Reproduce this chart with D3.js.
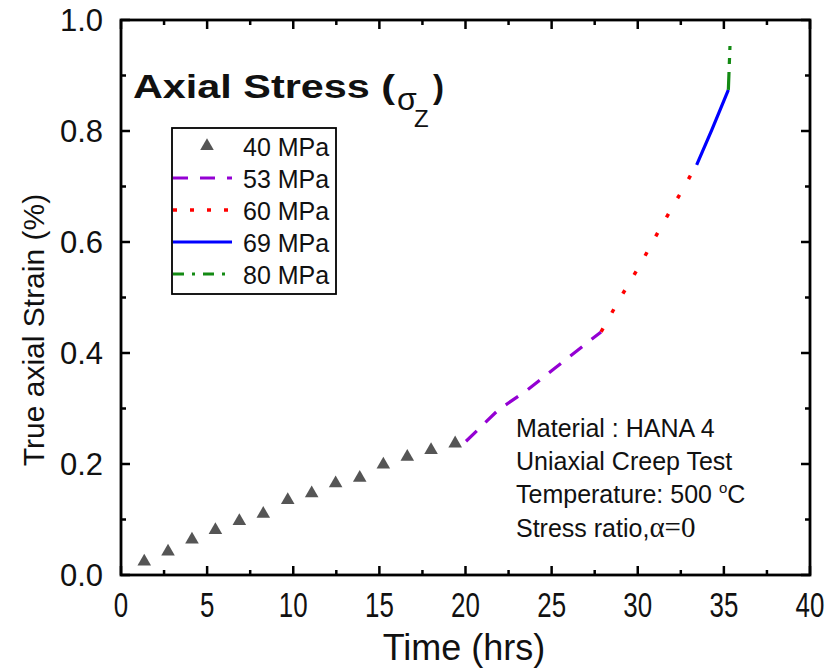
<!DOCTYPE html>
<html>
<head>
<meta charset="utf-8">
<script src="https://cdn.jsdelivr.net/npm/d3@7"></script>
<style>
  body { margin: 0; background: #fff; }
  text { font-family: "Liberation Sans", Arial, sans-serif; fill: #111; }
</style>
</head>
<body>
<svg id="chart" width="833" height="670"></svg>
<script>
// 40 MPa points (triangles)
const t40 = [1.35, 2.73, 4.12, 5.48, 6.87, 8.26, 9.68, 11.07, 12.46, 13.86, 15.23, 16.62, 18.0, 19.4];
const s40 = [0.024, 0.042, 0.064, 0.081, 0.097, 0.110, 0.135, 0.147, 0.165, 0.175, 0.199, 0.213, 0.225, 0.237];

// the other stress levels as line segments
const t53 = [20.03, 21.89, 23.57, 25.2, 27.05, 27.87];
const s53 = [0.241, 0.297, 0.333, 0.373, 0.418, 0.438];
const t60 = [27.87, 28.85, 30.19, 31.47, 32.8, 33.44];
const s60 = [0.438, 0.492, 0.562, 0.634, 0.705, 0.741];
const t69 = [33.42, 34.3, 35.26];
const s69 = [0.739, 0.802, 0.874];
const t80 = [35.26, 35.31, 35.36];
const s80 = [0.874, 0.916, 0.958];

const legendLabels = ["40 MPa", "53 MPa", "60 MPa", "69 MPa", "80 MPa"];
const xTicks = [0, 5, 10, 15, 20, 25, 30, 35, 40];
const yTicks = [0.0, 0.2, 0.4, 0.6, 0.8, 1.0];

const svg = d3.select("#chart");
const mLeft = 121, mRight = 810, mTop = 20, mBottom = 575;

const x = d3.scaleLinear().domain([0, 40]).range([mLeft, mRight]);
const y = d3.scaleLinear().domain([0, 1]).range([mBottom, mTop]);

const zip = (a, b) => a.map((v, i) => [v, b[i]]);

// ticks (inward on all four sides)
const g = svg.append("g").attr("stroke", "#000").attr("stroke-width", 2.5);
const xMinor = d3.range(2.5, 40, 5);
const yMinor = d3.range(0.1, 1, 0.2);
function xTick(v, len) {
  g.append("line").attr("x1", x(v)).attr("x2", x(v)).attr("y1", mBottom).attr("y2", mBottom - len);
  g.append("line").attr("x1", x(v)).attr("x2", x(v)).attr("y1", mTop).attr("y2", mTop + len);
}
function yTick(v, len) {
  g.append("line").attr("x1", mLeft).attr("x2", mLeft + len).attr("y1", y(v)).attr("y2", y(v));
  g.append("line").attr("x1", mRight).attr("x2", mRight - len).attr("y1", y(v)).attr("y2", y(v));
}
xTicks.forEach(v => xTick(v, 9));
xMinor.forEach(v => xTick(v, 5));
yTicks.forEach(v => yTick(v, 9));
yMinor.forEach(v => yTick(v, 5));

svg.append("rect")
  .attr("x", mLeft).attr("y", mTop)
  .attr("width", mRight - mLeft).attr("height", mBottom - mTop)
  .attr("fill", "none").attr("stroke", "#000").attr("stroke-width", 2.8);

// tick labels
xTicks.forEach(v => {
  svg.append("text")
    .attr("transform", `translate(${x(v)},617) scale(0.72,1)`)
    .attr("text-anchor", "middle")
    .attr("font-size", 36)
    .text(v);
});
yTicks.forEach(v => {
  svg.append("text")
    .attr("x", 103).attr("y", y(v) + 11)
    .attr("text-anchor", "end")
    .attr("font-size", 31)
    .text(v.toFixed(1));
});

// axis titles
svg.append("text")
  .attr("x", 464).attr("y", 660)
  .attr("text-anchor", "middle")
  .attr("font-size", 36)
  .text("Time (hrs)");
svg.append("text")
  .attr("transform", "translate(44,330) rotate(-90)")
  .attr("text-anchor", "middle")
  .attr("font-size", 30)
  .text("True axial Strain (%)");

// data
const line = d3.line().x(d => x(d[0])).y(d => y(d[1]));
const series = [
  { pts: zip(t53, s53), color: "#9400d3", dash: "15,12", w: 3.2 },
  { pts: zip(t60, s60), color: "#ff0000", dash: "4,18", w: 3.5 },
  { pts: zip(t69, s69), color: "#0000ff", dash: null, w: 3.2 },
  { pts: zip(t80, s80), color: "#138a13", dash: "18,8,6,8,4,8", w: 3.2 }
];
series.forEach(s => {
  svg.append("path")
    .attr("d", line(s.pts))
    .attr("fill", "none")
    .attr("stroke", s.color)
    .attr("stroke-width", s.w)
    .attr("stroke-dasharray", s.dash);
});

const tri = d3.symbol().type(d3.symbolTriangle).size(80);
svg.selectAll("path.tri")
  .data(zip(t40, s40))
  .enter().append("path")
  .attr("class", "tri")
  .attr("d", tri)
  .attr("transform", d => `translate(${x(d[0])},${y(d[1])})`)
  .attr("fill", "#555");

// title
svg.append("text")
  .attr("x", 133).attr("y", 98)
  .attr("font-size", 33).attr("font-weight", "bold")
  .attr("textLength", 262).attr("lengthAdjust", "spacingAndGlyphs")
  .text("Axial Stress (");
svg.append("text")
  .attr("x", 397).attr("y", 110)
  .attr("font-size", 32)
  .text("σ");
svg.append("text")
  .attr("x", 414).attr("y", 127)
  .attr("font-size", 24)
  .text("Z");
svg.append("text")
  .attr("x", 433).attr("y", 98)
  .attr("font-size", 33).attr("font-weight", "bold")
  .text(")");

// legend
svg.append("rect")
  .attr("x", 172).attr("y", 128).attr("width", 164).attr("height", 166)
  .attr("fill", "#fff").attr("stroke", "#000").attr("stroke-width", 1.8);
legendLabels.forEach((lab, i) => {
  const cy = 146 + i * 32;
  if (i === 0) {
    svg.append("path").attr("d", tri).attr("transform", `translate(207,${cy})`).attr("fill", "#555");
  } else {
    const s = series[i - 1];
    svg.append("line")
      .attr("x1", 173).attr("x2", 232).attr("y1", cy).attr("y2", cy)
      .attr("stroke", s.color).attr("stroke-width", s.w)
      .attr("stroke-dasharray", i === 2 ? "4,13" : i === 4 ? "11,8,3,8" : s.dash);
  }
  svg.append("text")
    .attr("x", 243).attr("y", cy + 10)
    .attr("font-size", 25)
    .text(lab);
});

// annotation
const note = svg.append("g").attr("font-size", 25);
note.append("text").attr("x", 516).attr("y", 437).text("Material : HANA 4");
note.append("text").attr("x", 516).attr("y", 470).text("Uniaxial Creep Test");
const temp = note.append("text").attr("x", 516).attr("y", 503).text("Temperature: 500 ");
temp.append("tspan").attr("font-size", 15).attr("dy", -10).text("o");
temp.append("tspan").attr("dy", 10).text("C");
const ratio = note.append("text").attr("x", 516).attr("y", 537).text("Stress ratio,");
ratio.append("tspan").attr("font-family", "'Liberation Serif', 'Times New Roman', serif").attr("font-size", 29).text("α=0");
</script>
</body>
</html>
